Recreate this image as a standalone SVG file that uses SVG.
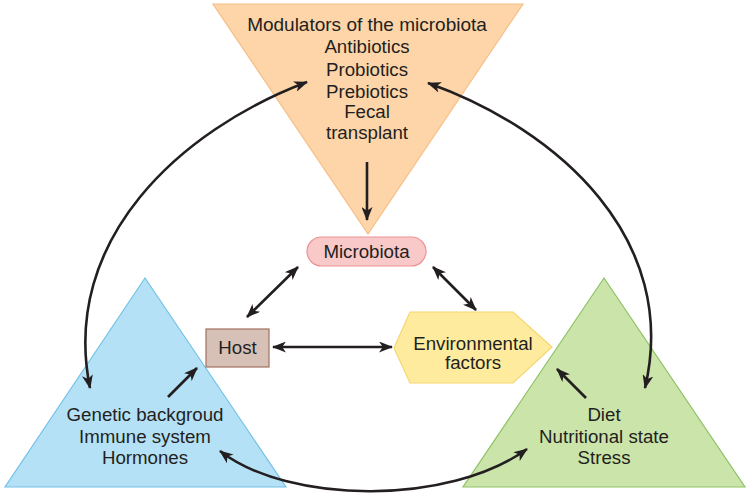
<svg xmlns="http://www.w3.org/2000/svg" width="750" height="499" viewBox="0 0 750 499">
<defs>
<style>
text{font-family:"Liberation Sans",Arial,sans-serif;font-size:18.7px;fill:#231F20;text-anchor:middle}
.c{fill:none;stroke:#231F20;stroke-width:2.6}
</style>
<marker id="ah" viewBox="0 0 14 11" refX="13" refY="5.5" markerWidth="14" markerHeight="11" markerUnits="userSpaceOnUse" orient="auto-start-reverse">
<path d="M0,0 L14,5.5 L0,11 L3.8,5.5 Z" fill="#231F20"/>
</marker>
</defs>
<rect width="750" height="499" fill="#ffffff"/>
<g id="modulators">
<polygon points="213,4 523,4 368,234" fill="#FDD5A8" stroke="#F6BE86" stroke-width="1.2"/>
<text x="367" y="31" style="font-size:19px">Modulators of the microbiota</text>
<text x="367" y="53">Antibiotics</text>
<text x="367" y="76">Probiotics</text>
<text x="367" y="98">Prebiotics</text>
<text x="367" y="118">Fecal</text>
<text x="367" y="139">transplant</text>
</g>
<g id="host-factors">
<polygon points="145,278 286,487 5,487" fill="#B5E1F6" stroke="#74C2E6" stroke-width="1.2"/>
<text x="145" y="421">Genetic backgroud</text>
<text x="145" y="443">Immune system</text>
<text x="145" y="464">Hormones</text>
</g>
<g id="env-factors">
<polygon points="604,278 745,487 463,487" fill="#CBE4AA" stroke="#8EC266" stroke-width="1.2"/>
<text x="604" y="421">Diet</text>
<text x="604" y="443">Nutritional state</text>
<text x="604" y="464">Stress</text>
</g>
<g id="microbiota">
<rect x="307" y="237" width="119" height="29" rx="14.5" fill="#F9C8C8" stroke="#EB9393" stroke-width="1.2"/>
<text x="366.5" y="258">Microbiota</text>
</g>
<g id="host">
<rect x="206" y="329" width="63" height="38" fill="#D7C1B7" stroke="#A0705F" stroke-width="1.2"/>
<text x="237.5" y="354">Host</text>
</g>
<g id="environmental">
<polygon points="394,348 410,312 513,312 552,347 513,383 410,383" fill="#FEEB9E" stroke="#F5D670" stroke-width="1.2"/>
<text x="473" y="350">Environmental</text>
<text x="473" y="369">factors</text>
</g>
<g id="connectors">
<path class="c" d="M367,162 L367,220" marker-end="url(#ah)"/>
<path class="c" d="M247,317 L298,267" marker-start="url(#ah)" marker-end="url(#ah)"/>
<path class="c" d="M433,267 L476,310" marker-start="url(#ah)" marker-end="url(#ah)"/>
<path class="c" d="M273,347 L392,347" marker-start="url(#ah)" marker-end="url(#ah)"/>
<path class="c" d="M168,397 L197,368" marker-end="url(#ah)"/>
<path class="c" d="M586,398 L557,369" marker-end="url(#ah)"/>
<path class="c" d="M307,82 C180,130 60,240 90,388" marker-start="url(#ah)" marker-end="url(#ah)"/>
<path class="c" d="M428,83 C560,130 680,240 645,388" marker-start="url(#ah)" marker-end="url(#ah)"/>
<path class="c" d="M220,451 C290,505 450,505 527,449" marker-start="url(#ah)" marker-end="url(#ah)"/>
</g>
</svg>
